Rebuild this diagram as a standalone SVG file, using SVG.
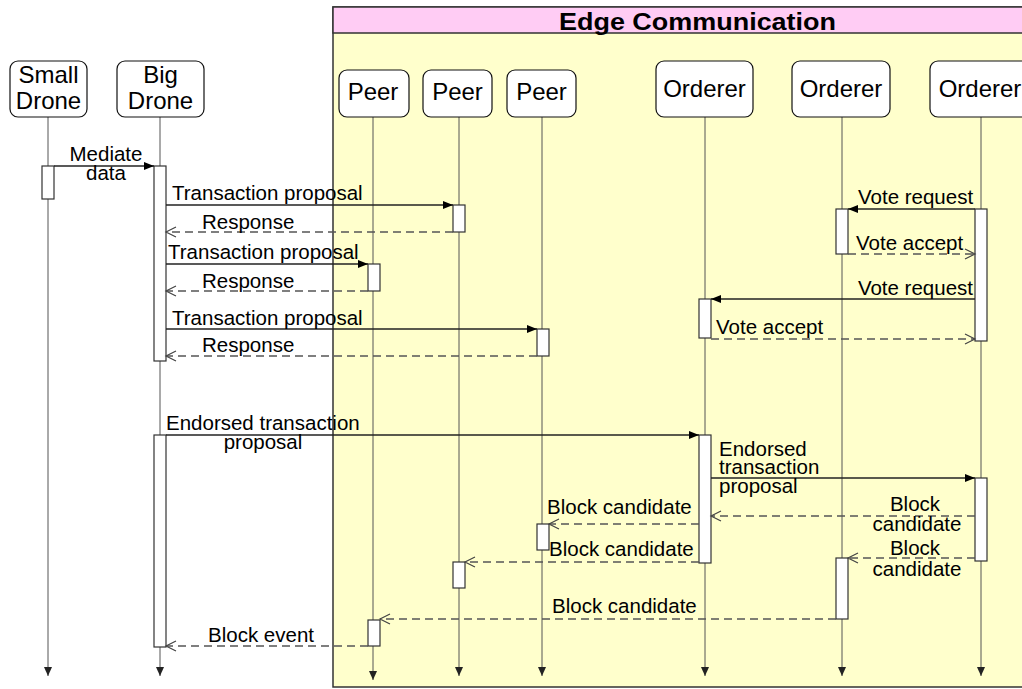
<svg xmlns="http://www.w3.org/2000/svg" width="1022" height="689" viewBox="0 0 1022 689">
<style>
text{font-family:"Liberation Sans",Arial,sans-serif;fill:#000}
.nl{font-size:24px;text-anchor:middle}
.ml{font-size:20.5px}
.mid{text-anchor:middle}
.end{text-anchor:end}
.box{fill:#fff;stroke:#111;stroke-width:1.2}
.life{stroke:#555;stroke-width:1;fill:none}
.act{fill:#fff;stroke:#333;stroke-width:1.2}
.msg{stroke:#222;stroke-width:1.3;fill:none;marker-end:url(#arr)}
.ret{stroke:#555;stroke-width:1.3;fill:none;stroke-dasharray:8 5;marker-end:url(#open)}
</style>
<defs>
<marker id="arr" markerWidth="11" markerHeight="10" refX="10" refY="5" orient="auto" markerUnits="userSpaceOnUse"><path d="M0,1 L10,5 L0,9 z" fill="#000"/></marker>
<marker id="open" markerWidth="13" markerHeight="12" refX="11" refY="6" orient="auto" markerUnits="userSpaceOnUse"><path d="M1,1 L11,6 L1,11" fill="none" stroke="#444" stroke-width="1.2"/></marker>
<marker id="lend" markerWidth="10" markerHeight="10" refX="9" refY="5" orient="auto" markerUnits="userSpaceOnUse"><path d="M0,1 L9,5 L0,9 z" fill="#222"/></marker>
</defs>
<rect width="1022" height="689" fill="#fff"/>
<g id="frame">
<rect x="333" y="7" width="700" height="680" fill="#ffffcc" stroke="#333" stroke-width="1.5"/>
<rect x="333" y="7" width="700" height="26" fill="#ffccf4" stroke="#333" stroke-width="1.5"/>
<text x="559" y="30" font-size="24" font-weight="bold" textLength="277" lengthAdjust="spacingAndGlyphs">Edge Communication</text>
</g>
<g id="small-drone">
<line class="life" x1="48" y1="117" x2="48" y2="676" marker-end="url(#lend)"/>
<rect class="box" x="10" y="61" width="77" height="56" rx="8"/>
<text class="nl" x="48.5" y="83">Small</text>
<text class="nl" x="48.5" y="109">Drone</text>
<rect class="act" x="42" y="166" width="12" height="33"/>
</g>
<g id="big-drone">
<line class="life" x1="160" y1="117" x2="160" y2="676" marker-end="url(#lend)"/>
<rect class="box" x="117" y="61" width="87" height="56" rx="8"/>
<text class="nl" x="160.5" y="83">Big</text>
<text class="nl" x="160.5" y="109">Drone</text>
<rect class="act" x="154" y="166" width="12" height="195"/>
<rect class="act" x="154" y="435" width="12" height="212"/>
</g>
<g id="peer-1">
<line class="life" x1="373" y1="117" x2="373" y2="680" marker-end="url(#lend)"/>
<rect class="box" x="339" y="70" width="70" height="47" rx="8"/>
<text class="nl" x="373" y="100">Peer</text>
<rect class="act" x="368" y="264" width="12" height="27"/>
<rect class="act" x="368" y="620" width="12" height="26"/>
</g>
<g id="peer-2">
<line class="life" x1="459" y1="117" x2="459" y2="676" marker-end="url(#lend)"/>
<rect class="box" x="423" y="70" width="69" height="47" rx="8"/>
<text class="nl" x="457.5" y="100">Peer</text>
<rect class="act" x="453" y="205" width="12" height="27"/>
<rect class="act" x="453" y="562" width="12" height="26"/>
</g>
<g id="peer-3">
<line class="life" x1="542" y1="117" x2="542" y2="676" marker-end="url(#lend)"/>
<rect class="box" x="507" y="70" width="69" height="47" rx="8"/>
<text class="nl" x="541.5" y="100">Peer</text>
<rect class="act" x="537" y="329" width="12" height="27"/>
<rect class="act" x="537" y="524" width="12" height="26"/>
</g>
<g id="orderer-1">
<line class="life" x1="705" y1="117" x2="705" y2="676" marker-end="url(#lend)"/>
<rect class="box" x="656" y="61" width="97" height="56" rx="8"/>
<text class="nl" x="704.5" y="97">Orderer</text>
<rect class="act" x="699" y="299" width="12" height="39"/>
<rect class="act" x="699" y="435" width="12" height="128"/>
</g>
<g id="orderer-2">
<line class="life" x1="842" y1="117" x2="842" y2="676" marker-end="url(#lend)"/>
<rect class="box" x="792" y="61" width="98" height="56" rx="8"/>
<text class="nl" x="841" y="97">Orderer</text>
<rect class="act" x="836" y="209" width="12" height="45"/>
<rect class="act" x="836" y="558" width="12" height="61"/>
</g>
<g id="orderer-3">
<line class="life" x1="981" y1="117" x2="981" y2="676" marker-end="url(#lend)"/>
<rect class="box" x="930" y="61" width="100" height="56" rx="8"/>
<text class="nl" x="980" y="97">Orderer</text>
<rect class="act" x="975" y="209" width="12" height="132"/>
<rect class="act" x="975" y="478" width="12" height="83"/>
</g>
<g id="connectors">
<line class="msg" x1="54" y1="166" x2="154" y2="166"/>
<line class="msg" x1="166" y1="205" x2="453" y2="205"/>
<line class="ret" x1="453" y1="232" x2="166" y2="232"/>
<line class="msg" x1="166" y1="264" x2="368" y2="264"/>
<line class="ret" x1="368" y1="291" x2="166" y2="291"/>
<line class="msg" x1="166" y1="329" x2="537" y2="329"/>
<line class="ret" x1="537" y1="356" x2="166" y2="356"/>
<line class="msg" x1="975" y1="209" x2="848" y2="209"/>
<line class="ret" x1="848" y1="254" x2="975" y2="254"/>
<line class="msg" x1="975" y1="299" x2="711" y2="299"/>
<line class="ret" x1="711" y1="339" x2="975" y2="339"/>
<line class="msg" x1="166" y1="435" x2="699" y2="435"/>
<line class="msg" x1="711" y1="478" x2="975" y2="478"/>
<line class="ret" x1="975" y1="516" x2="711" y2="516"/>
<line class="ret" x1="699" y1="524" x2="549" y2="524"/>
<line class="ret" x1="975" y1="558" x2="848" y2="558"/>
<line class="ret" x1="699" y1="562" x2="465" y2="562"/>
<line class="ret" x1="836" y1="619" x2="380" y2="619"/>
<line class="ret" x1="368" y1="646" x2="166" y2="646"/>
</g>
<g id="labels">
<text class="ml mid" x="106" y="161">Mediate</text>
<text class="ml mid" x="106" y="180">data</text>
<text class="ml" x="172" y="200">Transaction proposal</text>
<text class="ml" x="202" y="229">Response</text>
<text class="ml" x="168" y="259">Transaction proposal</text>
<text class="ml" x="202" y="288">Response</text>
<text class="ml" x="172" y="325">Transaction proposal</text>
<text class="ml" x="202" y="352">Response</text>
<text class="ml" x="858" y="204">Vote request</text>
<text class="ml" x="856" y="250">Vote accept</text>
<text class="ml end" x="973" y="295">Vote request</text>
<text class="ml" x="716" y="334">Vote accept</text>
<text class="ml" x="166" y="430">Endorsed transaction</text>
<text class="ml mid" x="263" y="449">proposal</text>
<text class="ml" x="719" y="456">Endorsed</text>
<text class="ml" x="719" y="474">transaction</text>
<text class="ml" x="719" y="493">proposal</text>
<text class="ml mid" x="915" y="511">Block</text>
<text class="ml mid" x="917" y="531">candidate</text>
<text class="ml" x="547" y="514">Block candidate</text>
<text class="ml mid" x="915" y="555">Block</text>
<text class="ml mid" x="917" y="576">candidate</text>
<text class="ml" x="549" y="556">Block candidate</text>
<text class="ml" x="552" y="613">Block candidate</text>
<text class="ml" x="208" y="642">Block event</text>
</g>
</svg>
